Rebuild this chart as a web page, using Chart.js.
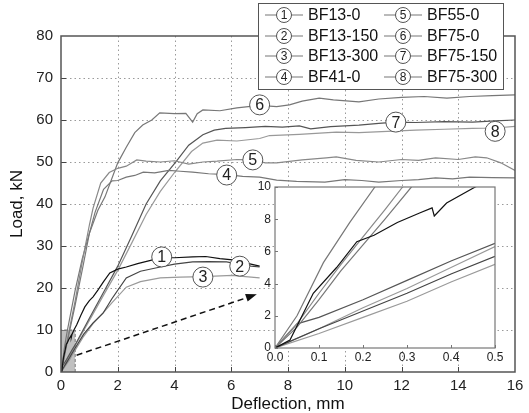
<!DOCTYPE html>
<html>
<head>
<meta charset="utf-8">
<script src="https://cdn.jsdelivr.net/npm/chart.js@4.4.0/dist/chart.umd.min.js"></script>
<style>
  body { margin: 0; background: #fff; }
  #wrap { position: relative; width: 529px; height: 413px; }
  #main { position: absolute; left: 0; top: 0; }
  #inset { position: absolute; left: 230px; top: 175px; }
</style>
</head>
<body>
<div id="wrap">
  <canvas id="main" width="529" height="413"></canvas>
  <canvas id="inset" width="290" height="200"></canvas>
</div>
<script>
// specimen names, in legend order
const names = ['BF13-0', 'BF13-150', 'BF13-300', 'BF41-0', 'BF55-0', 'BF75-0', 'BF75-150', 'BF75-300'];
const colors = ['#111', '#444', '#9a9a9a', '#777', '#888', '#777', '#555', '#999'];

// [deflection mm, load kN]
const bf13_0 = [[0,0],[0.034,0.5],[0.087,3.4],[0.14,5.0],[0.186,6.6],[0.225,7.0],[0.278,7.8],[0.33,8.4],[0.357,8.7],[0.362,8.2],[0.39,9.0],[0.455,10],[0.55,11.2],[0.7,13.5],[0.84,15.5],[1.0,17],[1.13,17.9],[1.3,19.5],[1.5,21.5],[1.72,23.6],[2.0,24.5],[2.3,25],[2.7,25.8],[3.23,26.7],[3.55,27.2],[4.0,27.2],[4.64,27.4],[5.1,27.5],[5.6,27.0],[6.05,26.7],[6.5,26.0],[7,25.2]];
const bf13_150 = [[0,0],[0.1,1.2],[0.2,2.3],[0.3,3.4],[0.4,4.6],[0.5,5.7],[0.8,9],[1.13,11.7],[1.48,14],[1.8,17.5],[2.3,22.4],[2.8,24],[3.5,25],[4.0,25.7],[4.64,26.2],[5.2,26.3],[5.84,26.2],[6.3,25.6],[6.7,25.2],[7,25]];
const bf13_300 = [[0,0],[0.1,0.9],[0.2,1.9],[0.3,2.9],[0.4,4.1],[0.5,5.2],[0.8,8.5],[1.13,11.5],[1.48,14],[1.8,16.5],[2.3,20.2],[2.8,21.5],[3.5,22.4],[4.2,22.6],[5,22.7],[6.05,23.0],[6.5,22.7],[7,22.4]];
const bf41_0 = [[0,0],[0.05,1.3],[0.1,3.0],[0.15,4.8],[0.2,6.4],[0.25,8.0],[0.31,10],[0.5,16],[0.77,25],[1.0,33],[1.2,38],[1.5,43.5],[1.8,45.5],[2.0,45.6],[2.3,46.4],[2.6,46.8],[2.9,47.6],[3.3,47.4],[3.8,48],[4.2,47.8],[4.64,47.6],[5.2,47.2],[5.84,47.0],[6.4,46.6],[7,46.4],[7.6,45.7],[8.3,45.4],[9.3,45.2],[10,45.8],[10.6,45.6],[11.2,45.2],[12,45.6],[12.6,45.8],[13.2,46.2],[13.8,46],[14.4,46.4],[15.2,46.3],[16,46.2]];
const bf55_0 = [[0,0],[0.05,1.5],[0.1,3.4],[0.15,5.2],[0.2,6.9],[0.25,8.6],[0.29,10],[0.5,17],[0.77,27],[1.0,35],[1.13,39],[1.4,45],[1.7,47.5],[2.0,48.5],[2.3,49],[2.67,50.5],[3.0,50.2],[3.5,50],[4.0,50.3],[4.5,49.5],[5,50],[5.5,50.2],[6.2,50.6],[6.76,50.5],[7.2,49.8],[7.6,49.8],[8.5,50.5],[9.35,51],[9.7,51.2],[10.4,50.4],[11.2,50],[12,50.6],[12.6,50.4],[13.2,51],[14,50.6],[14.6,51.2],[15,51],[15.5,49.8],[16,48]];
const bf75_0 = [[0,0],[0.05,2],[0.11,5.3],[0.17,7.8],[0.227,10],[0.5,19.5],[0.75,27],[1.0,33],[1.3,38.5],[1.55,41.7],[2.0,49.8],[2.3,53.5],[2.6,57],[2.88,58.8],[3.2,60],[3.48,61.7],[4.0,61.5],[4.4,61.6],[4.64,59.5],[4.8,61.5],[5,62.4],[5.6,62.2],[6.2,62.9],[7,63.5],[7.6,63.2],[8.05,63.6],[8.5,64.5],[9.1,65.2],[9.6,64.8],[10.5,64.3],[11.2,65],[12,65.4],[12.8,65.6],[13.6,65.2],[14.4,65.6],[15.2,65.8],[16,66]];
const bf75_150 = [[0,0],[0.05,1.5],[0.1,1.9],[0.2,3.0],[0.3,4.2],[0.4,5.4],[0.5,6.5],[1.0,12.8],[1.5,19],[2.0,25.2],[2.5,32.5],[3.0,40],[3.5,45.5],[4.07,50.2],[4.5,54],[5.0,56.5],[5.4,57.6],[5.8,58],[6.5,58.2],[7.2,58.5],[7.8,58.3],[8.4,58.6],[8.8,57.9],[9.5,58.4],[10.5,58.8],[11.2,59.2],[11.8,59.5],[12.5,59.4],[13.5,59.6],[14.5,59.5],[15.3,59.8],[16,60]];
const bf75_300 = [[0,0],[0.1,1.2],[0.2,2.5],[0.3,3.7],[0.4,5.0],[0.5,6.3],[1.0,12.3],[1.5,18.3],[2.0,24.2],[2.5,30.8],[3.0,37.5],[3.5,43],[4.0,47.5],[4.6,52.5],[5.0,54.5],[5.5,55.2],[6.2,55],[7,55.6],[7.35,56.3],[8.4,56.6],[9.7,57.1],[10.5,57],[11.5,57.3],[12.5,57.6],[13.5,57.8],[14.5,58],[15.3,58.1],[16,58.5]];
const series = [bf13_0, bf13_150, bf13_300, bf41_0, bf55_0, bf75_0, bf75_150, bf75_300];

// where the circled numbers sit on the curves
const tagX = [3.55, 6.3, 5.0, 5.84, 6.76, 7.0, 11.8, 15.3];
const tagY = [27.4, 25.2, 22.6, 46.9, 50.5, 63.6, 59.5, 57.3];

// zoomed window and arrow
const zoomX = [0, 0.5];
const zoomY = [0, 10];
const arrowFrom = [0.55, 4];
const arrowTo = [6.9, 18.5];

const FONT = '"Liberation Sans", Arial, sans-serif';

function makeSets(width) {
    return series.map((s, i) => ({
        label: names[i],
        data: s.map(p => ({ x: p[0], y: p[1] })),
        borderColor: colors[i],
        borderWidth: width,
        pointRadius: 0,
        fill: false,
        tension: 0
    }));
}

function circleNum(ctx, cx, cy, r, n, fs) {
    ctx.beginPath();
    ctx.arc(cx, cy, r, 0, Math.PI * 2);
    ctx.fillStyle = '#fff';
    ctx.fill();
    ctx.strokeStyle = '#555';
    ctx.lineWidth = 1;
    ctx.stroke();
    ctx.fillStyle = '#222';
    ctx.font = fs + 'px ' + FONT;
    ctx.textAlign = 'center';
    ctx.textBaseline = 'middle';
    ctx.fillText(String(n), cx, cy + 1);
}

const mainDeco = {
    id: 'mainDeco',
    beforeDatasetsDraw(chart) {
        const { ctx, chartArea: a, scales: { x, y } } = chart;
        ctx.save();
        // dotted grid
        ctx.strokeStyle = '#9a9a9a';
        ctx.lineWidth = 1;
        ctx.setLineDash([1.5, 3]);
        for (let v = 2; v < 16; v += 2) {
            const px = Math.round(x.getPixelForValue(v)) + 0.5;
            ctx.beginPath(); ctx.moveTo(px, a.top); ctx.lineTo(px, a.bottom); ctx.stroke();
        }
        for (let v = 10; v < 80; v += 10) {
            const py = Math.round(y.getPixelForValue(v)) + 0.5;
            ctx.beginPath(); ctx.moveTo(a.left, py); ctx.lineTo(a.right, py); ctx.stroke();
        }
        ctx.setLineDash([]);
        // inward ticks
        ctx.strokeStyle = '#444';
        for (let v = 2; v < 16; v += 2) {
            const px = Math.round(x.getPixelForValue(v)) + 0.5;
            ctx.beginPath(); ctx.moveTo(px, a.bottom); ctx.lineTo(px, a.bottom - 5); ctx.stroke();
        }
        for (let v = 10; v < 80; v += 10) {
            const py = Math.round(y.getPixelForValue(v)) + 0.5;
            ctx.beginPath(); ctx.moveTo(a.left, py); ctx.lineTo(a.left + 5, py); ctx.stroke();
        }
        // shaded zoom window
        const x0 = x.getPixelForValue(zoomX[0]), x1 = x.getPixelForValue(zoomX[1]);
        const y0 = y.getPixelForValue(zoomY[0]), y1 = y.getPixelForValue(zoomY[1]);
        ctx.fillStyle = 'rgba(150,150,150,0.6)';
        ctx.fillRect(x0, y1, x1 - x0, y0 - y1);
        ctx.strokeStyle = '#777';
        ctx.setLineDash([3, 2]);
        ctx.beginPath(); ctx.moveTo(x1, y0); ctx.lineTo(x1, y1); ctx.lineTo(x0, y1); ctx.stroke();
        ctx.restore();
    },
    afterDatasetsDraw(chart) {
        const { ctx, chartArea: a, scales: { x, y } } = chart;
        ctx.save();
        // dashed arrow to the inset
        const ax = x.getPixelForValue(arrowFrom[0]), ay = y.getPixelForValue(arrowFrom[1]);
        const bx = x.getPixelForValue(arrowTo[0]), by = y.getPixelForValue(arrowTo[1]);
        const ang = Math.atan2(by - ay, bx - ax);
        ctx.strokeStyle = '#111';
        ctx.lineWidth = 1.5;
        ctx.setLineDash([6, 4]);
        ctx.beginPath(); ctx.moveTo(ax, ay); ctx.lineTo(bx - 9 * Math.cos(ang), by - 9 * Math.sin(ang)); ctx.stroke();
        ctx.setLineDash([]);
        ctx.fillStyle = '#111';
        ctx.beginPath();
        ctx.moveTo(bx, by);
        ctx.lineTo(bx - 11 * Math.cos(ang) + 4 * Math.sin(ang), by - 11 * Math.sin(ang) - 4 * Math.cos(ang));
        ctx.lineTo(bx - 11 * Math.cos(ang) - 4 * Math.sin(ang), by - 11 * Math.sin(ang) + 4 * Math.cos(ang));
        ctx.closePath(); ctx.fill();
        // circled numbers on curves
        tagX.forEach((v, i) => {
            circleNum(ctx, x.getPixelForValue(v), y.getPixelForValue(tagY[i]), 10, i + 1, 16);
        });
        // frame
        ctx.strokeStyle = '#555';
        ctx.lineWidth = 1.5;
        ctx.strokeRect(a.left, a.top, a.right - a.left, a.bottom - a.top);
        ctx.restore();
    },
    afterDraw(chart) {
        const { ctx, chartArea: a } = chart;
        ctx.save();
        // axis titles
        ctx.fillStyle = '#111';
        ctx.font = '17px ' + FONT;
        ctx.textAlign = 'center';
        ctx.textBaseline = 'middle';
        ctx.fillText('Deflection, mm', (a.left + a.right) / 2, 404);
        ctx.translate(17, (a.top + a.bottom) / 2);
        ctx.rotate(-Math.PI / 2);
        ctx.fillText('Load, kN', 0, 0);
        ctx.restore();
        // legend box
        ctx.save();
        const L = 258, T = 3, R = 503, B = 89;
        ctx.fillStyle = '#fff';
        ctx.fillRect(L, T, R - L, B - T);
        ctx.strokeStyle = '#555';
        ctx.lineWidth = 1;
        ctx.strokeRect(L + 0.5, T + 0.5, R - L, B - T);
        const rows = [15, 36, 56, 77];
        const cols = [284, 403];
        names.forEach((n, i) => {
            const cx = cols[Math.floor(i / 4)], cy = rows[i % 4];
            ctx.strokeStyle = '#777';
            ctx.lineWidth = 1.2;
            ctx.beginPath(); ctx.moveTo(cx - 19, cy); ctx.lineTo(cx + 19, cy); ctx.stroke();
            circleNum(ctx, cx, cy, 7.5, i + 1, 12);
            ctx.fillStyle = '#111';
            ctx.font = '16px ' + FONT;
            ctx.textAlign = 'left';
            ctx.textBaseline = 'middle';
            ctx.fillText(n, cx + 24, cy + 1);
        });
        ctx.restore();
    }
};

new Chart(document.getElementById('main'), {
    type: 'line',
    data: { datasets: makeSets(1.2) },
    options: {
        responsive: false,
        animation: false,
        devicePixelRatio: 1,
        layout: { padding: { left: 0, top: 36, right: 14, bottom: 0 } },
        plugins: { legend: { display: false }, tooltip: { enabled: false } },
        scales: {
            x: {
                type: 'linear', min: 0, max: 16,
                ticks: { stepSize: 2, color: '#222', font: { family: FONT, size: 15 }, padding: 5, maxRotation: 0 },
                grid: { display: false, drawTicks: false },
                border: { display: false },
                afterFit: s => { s.height = 41; }
            },
            y: {
                type: 'linear', min: 0, max: 80,
                ticks: { stepSize: 10, color: '#222', font: { family: FONT, size: 15 }, padding: 8 },
                grid: { display: false, drawTicks: false },
                border: { display: false },
                afterFit: s => { s.width = 61; }
            }
        }
    },
    plugins: [mainDeco]
});

const insetDeco = {
    id: 'insetDeco',
    beforeDatasetsDraw(chart) {
        const { ctx, chartArea: a, scales: { x, y } } = chart;
        ctx.save();
        ctx.fillStyle = '#fff';
        ctx.fillRect(a.left, a.top, a.right - a.left, a.bottom - a.top);
        ctx.restore();
    },
    afterDatasetsDraw(chart) {
        const { ctx, chartArea: a, scales: { x, y } } = chart;
        ctx.save();
        ctx.strokeStyle = '#777';
        ctx.lineWidth = 1;
        x.ticks.forEach(t => {
            const px = Math.round(x.getPixelForValue(t.value)) + 0.5;
            ctx.beginPath(); ctx.moveTo(px, a.bottom); ctx.lineTo(px, a.bottom - 3); ctx.stroke();
        });
        y.ticks.forEach(t => {
            const py = Math.round(y.getPixelForValue(t.value)) + 0.5;
            ctx.beginPath(); ctx.moveTo(a.left, py); ctx.lineTo(a.left + 3, py); ctx.stroke();
        });
        ctx.lineWidth = 1.2;
        ctx.strokeRect(a.left, a.top, a.right - a.left, a.bottom - a.top);
        ctx.restore();
    }
};

new Chart(document.getElementById('inset'), {
    type: 'line',
    data: { datasets: makeSets(1.2) },
    options: {
        responsive: false,
        animation: false,
        devicePixelRatio: 1,
        layout: { padding: { left: 0, top: 12, right: 25, bottom: 0 } },
        plugins: { legend: { display: false }, tooltip: { enabled: false } },
        scales: {
            x: {
                type: 'linear', min: zoomX[0], max: zoomX[1],
                ticks: { stepSize: 0.1, color: '#222', font: { family: FONT, size: 12 }, padding: 2, maxRotation: 0,
                    callback: v => v.toFixed(1) },
                grid: { display: false, drawTicks: false },
                border: { display: false },
                afterFit: s => { s.height = 27; }
            },
            y: {
                type: 'linear', min: zoomY[0], max: zoomY[1],
                ticks: { stepSize: 2, color: '#222', font: { family: FONT, size: 12 }, padding: 4 },
                grid: { display: false, drawTicks: false },
                border: { display: false },
                afterFit: s => { s.width = 45; }
            }
        }
    },
    plugins: [insetDeco]
});
</script>
</body>
</html>
